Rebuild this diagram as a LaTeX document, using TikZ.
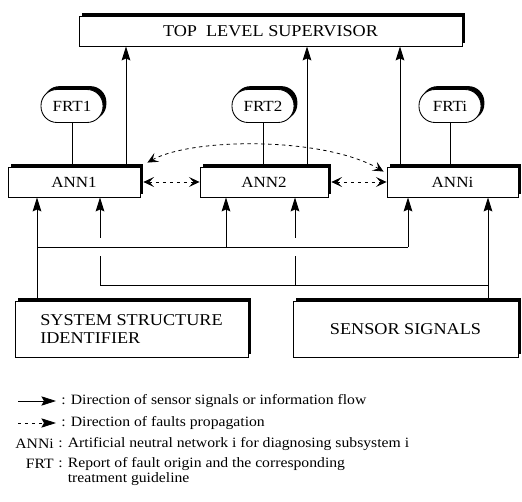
\documentclass[tikz,border=0pt]{standalone}
\usepackage{fontspec}
\setmainfont{Liberation Serif}[FakeStretch=1.1]
\usetikzlibrary{arrows.meta,backgrounds}

\begin{document}
\begin{tikzpicture}[x=0.75pt, y=-0.75pt,
  boxed/.style={draw, fill=white, line width=0.65pt, inner sep=0pt},
  blk/.style={boxed, font=\fontsize{12.4}{14}\selectfont},
  annbox/.style={boxed, minimum height=22.5pt, font=\fontsize{11.6}{13}\selectfont},
  frtbox/.style={boxed, rounded corners=12pt, minimum width=46.5pt,
    minimum height=24.75pt, font=\fontsize{11.6}{13}\selectfont},
  link/.style={line width=0.7pt},
  flow/.style={link, -{Stealth[length=10.5pt, width=6.5pt, inset=1.5pt]}},
  fault/.style={line width=0.6pt, dash pattern=on 2.6pt off 2.6pt,
    {Stealth[length=8pt, width=7.5pt, inset=3.5pt]}-{Stealth[length=8pt, width=7.5pt, inset=3.5pt]}},
  legend/.style={inner sep=1.5pt, font=\fontsize{10.7}{12}\selectfont},
  legtip/.style={-{Stealth[length=11pt, width=7pt, inset=2pt]}, line width=0.6pt}
]
\useasboundingbox (0,0) rectangle (522,502);

% supervisor, reports and networks
\node[blk, minimum width=287.25pt, minimum height=22.5pt] (top) at (270.5,31) {TOP\ \ LEVEL SUPERVISOR};
\node[frtbox] (frt1) at (72,106) {FRT1};
\node[frtbox] (frt2) at (263,106) {FRT2};
\node[frtbox] (frti) at (450,106) {FRTi};
\node[annbox, minimum width=99pt] (ann1) at (74,182) {ANN1};
\node[annbox, minimum width=96pt] (ann2) at (264,182) {ANN2};
\node[annbox, minimum width=98.25pt] (anni) at (452.5,182) {ANNi};

% input sources
\node[blk, minimum width=174.75pt, minimum height=42pt, align=left] (sys) at (131.5,329)
  {SYSTEM STRUCTURE\\IDENTIFIER};
\node[blk, minimum width=168.75pt, minimum height=42pt] (sen) at (405.5,329) {SENSOR SIGNALS};

% offset black shadows behind every box
\begin{pgfonlayer}{background}
  \foreach \n in {top,ann1,ann2,anni,sys,sen}
    \fill ([shift={(2.2pt,2.2pt)}]\n.south west) rectangle ([shift={(2.2pt,2.2pt)}]\n.north east);
  \foreach \n in {frt1,frt2,frti}
    \fill[rounded corners=12pt] ([shift={(2.2pt,2.2pt)}]\n.south west) rectangle ([shift={(2.2pt,2.2pt)}]\n.north east);
\end{pgfonlayer}

% bus junctions
\coordinate (s1) at (37,247);
\coordinate (s2) at (226,247);
\coordinate (s3) at (408,247);
\coordinate (r1) at (100,285);
\coordinate (r2) at (295,285);
\coordinate (r3) at (488,285);
\coordinate (g1) at (100,256);
\coordinate (h1) at (100,238);
\coordinate (g2) at (295,256);
\coordinate (h2) at (295,238);
\coordinate (t1) at (126,0);
\coordinate (t2) at (307,0);
\coordinate (t3) at (400,0);

% networks report to the supervisor
\draw[flow] (ann1.north -| t1) -- (top.south -| t1);
\draw[flow] (ann2.north -| t2) -- (top.south -| t2);
\draw[flow] (anni.north -| t3) -- (top.south -| t3);
\draw[link] (frt1.south) -- (ann1.north -| frt1.south);
\draw[link] (frt2.south) -- (ann2.north -| frt2.south);
\draw[link] (frti.south) -- (anni.north -| frti.south);

% system structure bus
\draw[flow] (sys.north -| s1) -- (ann1.south -| s1);
\draw[link] (s1) -- (s3);
\draw[flow] (s2) -- (ann2.south -| s2);
\draw[flow] (s3) -- (anni.south -| s3);

% sensor signal bus (broken where it crosses the other bus)
\draw[flow] (sen.north -| r3) -- (anni.south -| r3);
\draw[link] (r3) -- (r1) -- (g1);
\draw[link] (r2) -- (g2);
\draw[flow] (h1) -- (ann1.south -| h1);
\draw[flow] (h2) -- (ann2.south -| h2);

% fault propagation between networks
\draw[fault, shorten <=2.2pt] (ann1.east) -- (ann2.west);
\draw[fault, shorten <=2.2pt] (ann2.east) -- (anni.west);
\draw[fault] ([xshift=5.25pt,yshift=3pt]ann1.north east)
  .. controls +(45,-25) and +(-60,-35) .. ([xshift=-2.25pt,yshift=-3.75pt]anni.north west);

% legend
\coordinate (la) at (18,401);
\coordinate (lb) at (56,401);
\coordinate (lc) at (18,423);
\coordinate (ld) at (56,423);
\draw[legtip] (la) -- (lb);
\draw[legtip, dash pattern=on 2.6pt off 2.6pt] (lc) -- (ld);
\node[legend, anchor=west] (l1) at (59,401) {: Direction of sensor signals or information flow};
\node[legend, anchor=west] (l2) at (59,423) {: Direction of faults propagation};
\node[legend, anchor=east] (k3) at (56,444) {ANNi};
\node[legend, anchor=west] (l3) at (56,444) {: Artificial neutral network i for diagnosing subsystem i};
\node[legend, anchor=east] (k4) at (56,464) {FRT};
\node[legend, anchor=west] (l4) at (56,464) {: Report of fault origin and the corresponding};
\node[legend, anchor=west] (l5) at (56,479) {\phantom{: }treatment guideline};
\end{tikzpicture}
\end{document}
